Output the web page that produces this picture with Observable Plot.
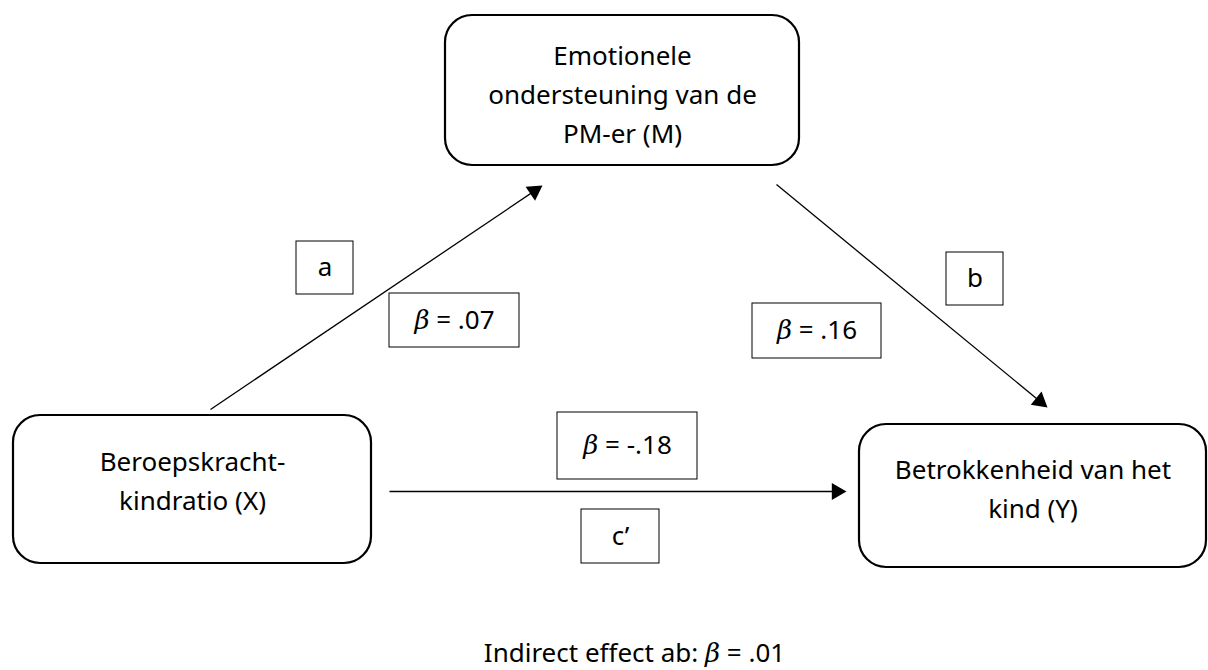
<!DOCTYPE html>
<html>
<head>
<meta charset="utf-8">
<script src="https://cdn.jsdelivr.net/npm/d3@7"></script>
<script src="https://cdn.jsdelivr.net/npm/@observablehq/plot@0.6"></script>
<style>
  html, body { margin: 0; padding: 0; background: #fff; }
  #chart svg { display: block; }
</style>
</head>
<body>
<div id="chart"></div>
<script>
// ---- content ----
const nodeIds = ["M", "X", "Y"];
const nodeLabels = [
  "Emotionele\nondersteuning van de\nPM-er (M)",
  "Beroepskracht-\nkindratio (X)",
  "Betrokkenheid van het\nkind (Y)"
];
const pathNames = ["a", "b", "c’"];
const pathFrom = ["X", "M", "X"];
const pathTo = ["M", "Y", "Y"];
const betaValues = [".07", ".16", "-.18"];
const indirectLabel = "Indirect effect ab:";
const indirectBeta = ".01";

// ---- layout (diagram geometry) ----
const W = 1208, H = 670;
const nodeBox = { // x1, y1, x2, y2, text center y
  M: [445, 15, 799, 165, 91],
  X: [13, 415, 371, 563, 478],
  Y: [859, 424, 1206, 567, 486]
};
const arrowGeom = [ // x1, y1, tipX, tipY
  [210, 409, 542, 185],
  [776, 184, 1047, 407],
  [389, 491, 846, 491]
];
const nameBox = [[296, 241, 353, 294], [946, 252, 1003, 305], [581, 509, 659, 563]];
const betaBox = [[389, 293, 519, 347], [752, 303, 881, 358], [557, 412, 697, 479]];
const indirectCenter = [634, 653];

const sans = "'Noto Sans', sans-serif";
const serif = "'DejaVu Serif', serif";
const FS = 26;

const ctx = document.createElement("canvas").getContext("2d");
function tw(t, f) { ctx.font = f; return ctx.measureText(t).width; }
const spaceW = tw(" ", `${FS}px ${sans}`);
const betaW = tw("β", `italic ${FS}px ${serif}`);

const nodes = nodeIds.map((id, i) => {
  const [x1, y1, x2, y2, ty] = nodeBox[id];
  return { id, label: nodeLabels[i], x1, y1, x2, y2, tx: (x1 + x2) / 2, ty };
});

const arrows = pathNames.map((n, i) => {
  const [x1, y1, tx, ty] = arrowGeom[i];
  const len = Math.hypot(tx - x1, ty - y1);
  const ux = (tx - x1) / len, uy = (ty - y1) / len;
  const hy = 4.9; // triangle half-scale
  return {
    name: n, from: pathFrom[i], to: pathTo[i],
    x1, y1, x2: tx - ux * 6, y2: ty - uy * 6,
    hx: tx - ux * 2 * hy, hy: ty - uy * 2 * hy,
    rot: Math.atan2(ux, -uy) * 180 / Math.PI,
    r: Math.sqrt(3 * Math.sqrt(3) * hy * hy / Math.PI)
  };
});

const names = pathNames.map((n, i) => {
  const [x1, y1, x2, y2] = nameBox[i];
  return { text: n, x1, y1, x2, y2, cx: (x1 + x2) / 2, cy: (y1 + y2) / 2 };
});

const betas = betaValues.map((v, i) => {
  const [x1, y1, x2, y2] = betaBox[i];
  const rest = "= " + v;
  const restW = tw(rest, `${FS}px ${sans}`);
  const total = betaW + spaceW + restW;
  const cx = (x1 + x2) / 2;
  const start = cx - total / 2;
  return { rest, x1, y1, x2, y2, bx: start, rx: start + betaW + spaceW, cy: (y1 + y2) / 2 };
});

const indPrefixW = tw(indirectLabel, `${FS}px ${sans}`);
const indRest = "= " + indirectBeta;
const indRestW = tw(indRest, `${FS}px ${sans}`);
const indTotal = indPrefixW + spaceW + betaW + spaceW + indRestW;
const indStart = indirectCenter[0] - indTotal / 2;
const indirect = [{
  px: indStart, bx: indStart + indPrefixW + spaceW,
  rx: indStart + indPrefixW + spaceW + betaW + spaceW, y: indirectCenter[1]
}];

const chart = Plot.plot({
  width: W, height: H, margin: 0,
  x: { domain: [0, W], range: [0, W], axis: null },
  y: { domain: [0, H], range: [0, H], axis: null },
  style: { background: "#fff" },
  marks: [
    // arrows
    Plot.link(arrows, { x1: "x1", y1: "y1", x2: "x2", y2: "y2", stroke: "#000", strokeWidth: 1.3 }),
    Plot.dot(arrows, { x: "hx", y: "hy", symbol: "triangle", r: arrows[0].r, rotate: "rot", fill: "#000", stroke: "none" }),
    // node boxes
    Plot.rect(nodes, { x1: "x1", x2: "x2", y1: "y1", y2: "y2", fill: "#fff", stroke: "#000", strokeWidth: 2.2, rx: 27, ry: 27 }),
    Plot.text(nodes, { x: "tx", y: "ty", text: "label", fontFamily: sans, fontSize: FS, lineHeight: 1.5, fill: "#000", textAnchor: "middle", lineAnchor: "middle" }),
    // path name boxes
    Plot.rect(names, { x1: "x1", x2: "x2", y1: "y1", y2: "y2", fill: "#fff", stroke: "#000", strokeWidth: 1 }),
    Plot.text(names, { x: "cx", y: "cy", text: "text", fontFamily: sans, fontSize: FS, fill: "#000", lineAnchor: "middle" }),
    // beta boxes
    Plot.rect(betas, { x1: "x1", x2: "x2", y1: "y1", y2: "y2", fill: "#fff", stroke: "#000", strokeWidth: 1 }),
    Plot.text(betas, { x: "bx", y: "cy", text: () => "β", fontFamily: serif, fontStyle: "italic", fontSize: FS, fill: "#000", textAnchor: "start", lineAnchor: "middle" }),
    Plot.text(betas, { x: "rx", y: "cy", text: "rest", fontFamily: sans, fontSize: FS, fill: "#000", textAnchor: "start", lineAnchor: "middle" }),
    // indirect effect
    Plot.text(indirect, { x: "px", y: "y", text: () => indirectLabel, fontFamily: sans, fontSize: FS, fill: "#000", textAnchor: "start", lineAnchor: "middle" }),
    Plot.text(indirect, { x: "bx", y: "y", text: () => "β", fontFamily: serif, fontStyle: "italic", fontSize: FS, fill: "#000", textAnchor: "start", lineAnchor: "middle" }),
    Plot.text(indirect, { x: "rx", y: "y", text: () => indRest, fontFamily: sans, fontSize: FS, fill: "#000", textAnchor: "start", lineAnchor: "middle" })
  ]
});
document.getElementById("chart").appendChild(chart);
</script>
</body>
</html>
